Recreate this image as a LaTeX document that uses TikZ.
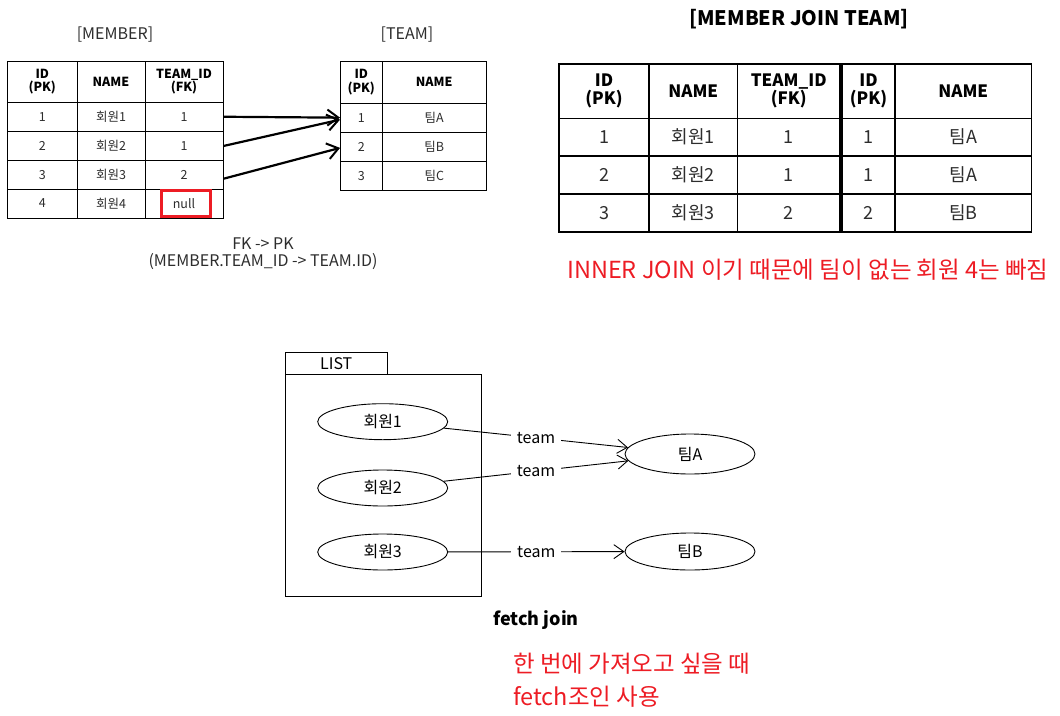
\documentclass[tikz,border=0pt]{standalone}
\usepackage{fontspec}
\setmainfont{Noto Sans CJK KR}
\usetikzlibrary{arrows.meta,shapes.geometric}
\definecolor{jred}{RGB}{237,28,36}
\definecolor{txtgray}{RGB}{45,45,45}
\tikzset{
  cellA/.style={draw=black, line width=0.9pt, inner sep=0pt, align=center, text=txtgray, font=\fontsize{12.5}{13}\selectfont},
  headA/.style={cellA, text=black, font=\fontsize{12.5}{13.5}\selectfont\bfseries},
  cellB/.style={draw=black, line width=1.6pt, inner sep=0pt, align=center, text=txtgray, font=\fontsize{18}{19}\selectfont},
  headB/.style={cellB, text=black, font=\fontsize{17}{18.5}\selectfont\bfseries},
  lbl/.style={inner sep=0pt, text=txtgray, font=\fontsize{16}{17.5}\selectfont, align=center},
  tarrow/.style={line width=2.2pt, -{Straight Barb[length=11pt, width=16pt, line width=2pt]}},
  ell/.style={ellipse, draw=black, line width=0.9pt, minimum width=130pt, inner sep=0pt, font=\fontsize{16}{16}\selectfont},
  rel/.style={line width=0.9pt, -{Straight Barb[length=10pt, width=14pt]}},
  rlabel/.style={fill=white, inner xsep=6pt, inner ysep=1pt, font=\fontsize{16}{16}\selectfont},
  redtxt/.style={text=jred, inner sep=0pt, anchor=west, font=\fontsize{23.5}{25}\selectfont},
}
\newcommand\tcell[7]{\node[#1, minimum width={(#4-#2)*1pt}, minimum height={(#5-#3)*1pt}] (#6) at ({(#2+#4)/2},{(#3+#5)/2}) {#7};}
\begin{document}
\begin{tikzpicture}[x=1pt,y=-1pt]
\useasboundingbox (0,0) rectangle (1060,715);
% ---------- MEMBER table ----------
\node[lbl] (lmember) at (115,35) {[MEMBER]};
\tcell{headA}{7.5}{61}{77}{102}{mh1}{ID\\(PK)}
\tcell{headA}{77}{61}{145}{102}{mh2}{NAME}
\tcell{headA}{145}{61}{223}{102}{mh3}{TEAM\_ID\\(FK)}
\tcell{cellA}{7.5}{102}{77}{131.5}{mi1}{1}
\tcell{cellA}{77}{102}{145}{131.5}{mn1}{회원1}
\tcell{cellA}{145}{102}{223}{131.5}{mf1}{1}
\tcell{cellA}{7.5}{131.5}{77}{160.5}{mi2}{2}
\tcell{cellA}{77}{131.5}{145}{160.5}{mn2}{회원2}
\tcell{cellA}{145}{131.5}{223}{160.5}{mf2}{1}
\tcell{cellA}{7.5}{160.5}{77}{189}{mi3}{3}
\tcell{cellA}{77}{160.5}{145}{189}{mn3}{회원3}
\tcell{cellA}{145}{160.5}{223}{189}{mf3}{2}
\tcell{cellA}{7.5}{189}{77}{218}{mi4}{4}
\tcell{cellA}{77}{189}{145}{218}{mn4}{회원4}
\tcell{cellA}{145}{189}{223}{218}{mf4}{null}
\node[draw=jred, line width=3pt, minimum width=49pt, minimum height=26pt, inner sep=0pt] (nullbox) at (186,203.5) {};
% ---------- TEAM table ----------
\node[lbl] (lteam) at (407,35) {[TEAM]};
\tcell{headA}{340.5}{61.5}{382}{103}{th1}{ID\\(PK)}
\tcell{headA}{382}{61.5}{486.5}{103}{th2}{NAME}
\tcell{cellA}{340.5}{103}{382}{132.3}{ti1}{1}
\tcell{cellA}{382}{103}{486.5}{132.3}{tn1}{팀A}
\tcell{cellA}{340.5}{132.3}{382}{161.5}{ti2}{2}
\tcell{cellA}{382}{132.3}{486.5}{161.5}{tn2}{팀B}
\tcell{cellA}{340.5}{161.5}{382}{190.5}{ti3}{3}
\tcell{cellA}{382}{161.5}{486.5}{190.5}{tn3}{팀C}
\draw[tarrow] (mf1.east) -- (ti1.west);
\draw[tarrow] (mf2.east) -- ([yshift=-2pt]ti1.west);
\draw[tarrow] ([yshift=-4pt]mf3.east) -- ([yshift=-1pt]ti2.west);
\node[lbl] (fkpk) at (263,253.5) {FK -> PK\\(MEMBER.TEAM\_ID -> TEAM.ID)};
% ---------- JOIN table ----------
\node[inner sep=0pt, font=\fontsize{20}{20}\selectfont\bfseries] (jtitle) at (799,19) {[MEMBER JOIN TEAM]};
\tcell{headB}{559}{64}{649}{118.3}{jh1}{ID\\(PK)}
\tcell{headB}{649}{64}{737.5}{118.3}{jh2}{NAME}
\tcell{headB}{737.5}{64}{840}{118.3}{jh3}{TEAM\_ID\\(FK)}
\tcell{headB}{842}{64}{895}{118.3}{jh4}{ID\\(PK)}
\tcell{headB}{895}{64}{1031.5}{118.3}{jh5}{NAME}
\tcell{cellB}{559}{118.3}{649}{156}{ja1}{1}
\tcell{cellB}{649}{118.3}{737.5}{156}{jb1}{회원1}
\tcell{cellB}{737.5}{118.3}{840}{156}{jc1}{1}
\tcell{cellB}{842}{118.3}{895}{156}{jd1}{1}
\tcell{cellB}{895}{118.3}{1031.5}{156}{je1}{팀A}
\tcell{cellB}{559}{156}{649}{194}{ja2}{2}
\tcell{cellB}{649}{156}{737.5}{194}{jb2}{회원2}
\tcell{cellB}{737.5}{156}{840}{194}{jc2}{1}
\tcell{cellB}{842}{156}{895}{194}{jd2}{1}
\tcell{cellB}{895}{156}{1031.5}{194}{je2}{팀A}
\tcell{cellB}{559}{194}{649}{231.7}{ja3}{3}
\tcell{cellB}{649}{194}{737.5}{231.7}{jb3}{회원3}
\tcell{cellB}{737.5}{194}{840}{231.7}{jc3}{2}
\tcell{cellB}{842}{194}{895}{231.7}{jd3}{2}
\tcell{cellB}{895}{194}{1031.5}{231.7}{je3}{팀B}
\node[redtxt] (inner) at (567,270) {INNER JOIN 이기 때문에 팀이 없는 회원 4는 빠짐};
% ---------- fetch join diagram ----------
\node[draw=black, line width=0.9pt, minimum width=102pt, minimum height=21.3pt, inner sep=0pt, font=\fontsize{16}{16}\selectfont] (tab) at (336.2,363.3) {LIST};
\node[draw=black, line width=0.9pt, minimum width=196.3pt, minimum height=222pt, inner sep=0pt] (listbox) at (383.2,485) {};
\node[ell, minimum height=36pt] (e1) at (382.7,421.7) {회원1};
\node[ell, minimum height=36pt] (e2) at (382.7,488) {회원2};
\node[ell, minimum height=36pt] (e3) at (382.7,552) {회원3};
\node[ell, minimum height=40pt] (ta) at (690,454) {팀A};
\node[ell, minimum height=37pt] (tb) at (690,551.5) {팀B};
\draw[rel] (e1) -- node[rlabel] (l1) {team} (ta);
\draw[rel] (e2) -- node[rlabel] (l2) {team} (ta);
\draw[rel] (e3) -- node[rlabel] (l3) {team} (tb);
\node[inner sep=0pt, font=\fontsize{18}{18}\selectfont\bfseries] (fj) at (536,620) {fetch join};
\node[redtxt] (r1) at (513,664) {한 번에 가져오고 싶을 때};
\node[redtxt] (r2) at (513,697) {fetch조인 사용};
\end{tikzpicture}
\end{document}
